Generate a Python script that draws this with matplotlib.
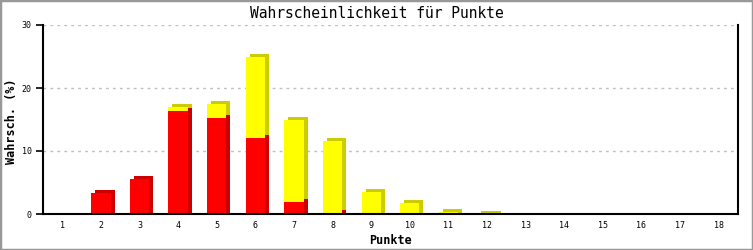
import numpy as np
import matplotlib
matplotlib.use('Agg')
import matplotlib.pyplot as plt
from matplotlib.transforms import ScaledTranslation

# Punkte 1..18
punkte = list(range(1, 19))
# roter Anteil (%)
rot = [0, 3.3, 5.6, 16.3, 15.2, 12.1, 1.9, 0.2, 0, 0, 0, 0, 0, 0, 0, 0, 0, 0]
# gelber Anteil (%) oben drauf
gelb = [0, 0, 0, 0.7, 2.3, 12.8, 13.0, 11.4, 3.5, 1.8, 0.3, 0.05, 0, 0, 0, 0, 0, 0]

fig = plt.figure(figsize=(7.53, 2.5), dpi=100)
fig.patch.set_facecolor('white')
ax = fig.add_axes([43/753, 36/250, 695/753, 189/250])

x = np.array(punkte)
rot = np.array(rot)
gelb = np.array(gelb)
summe = rot + gelb
breite = 0.5
unten = -0.5  # Schatten reicht bis zur Grundlinie

# 3D-Effekt: dunkle, versetzte Kopie hinter den Balken
versatz = ax.transData + ScaledTranslation(0.04, 0.03, fig.dpi_scale_trans)
schatten_g = ax.bar(x, np.where(summe > 0, summe - unten, np.nan), bottom=unten,
                    width=breite, color='#cccc00', zorder=2)
schatten_r = ax.bar(x, np.where(rot > 0, rot - unten, np.nan), bottom=unten,
                    width=breite, color='#cc0000', zorder=2.5)
for p in list(schatten_r.patches) + list(schatten_g.patches):
    p.set_transform(versatz)

ax.bar(x, np.where(rot > 0, rot, np.nan), width=breite, color='#ff0000', zorder=3)
ax.bar(x, np.where(gelb > 0, gelb, np.nan), bottom=rot, width=breite, color='#ffff00', zorder=3)

ax.set_xlim(0.5, 18.5)
ax.set_ylim(0, 30)
ax.set_xticks(punkte)
ax.set_xticklabels([str(p) for p in punkte])
ax.set_yticks([0, 10, 20, 30])

for y in [10, 20, 30]:
    ax.axhline(y, color='#c0c0c0', linewidth=1, linestyle=(0, (2, 3)), zorder=1)

ax.spines['top'].set_visible(False)
for s in ['left', 'bottom', 'right']:
    ax.spines[s].set_linewidth(1.5)
    ax.spines[s].set_color('black')
    ax.spines[s].set_zorder(4)

mono = 'DejaVu Sans Mono'
ax.tick_params(axis='x', length=0, pad=5, labelsize=6, labelfontfamily=mono)
ax.tick_params(axis='y', length=5, width=1.2, pad=3, labelsize=6, labelfontfamily=mono)

ax.set_ylabel('Wahrsch. (%)', fontsize=8.5, fontweight='bold', family=mono)
ax.yaxis.set_label_coords(-0.036, 0.49)
ax.set_xlabel('Punkte', fontsize=8.5, fontweight='bold', family=mono, labelpad=3)
fig.text(0.5, 0.948, 'Wahrscheinlichkeit für Punkte', ha='center', va='center',
         fontsize=10.5, family=mono)

# grauer Rahmen
fig.patches.append(plt.Rectangle((0, 0), 1, 1, transform=fig.transFigure, fill=False,
                                 edgecolor='#999999', linewidth=2.5))

fig.savefig('out.png', dpi=100)
